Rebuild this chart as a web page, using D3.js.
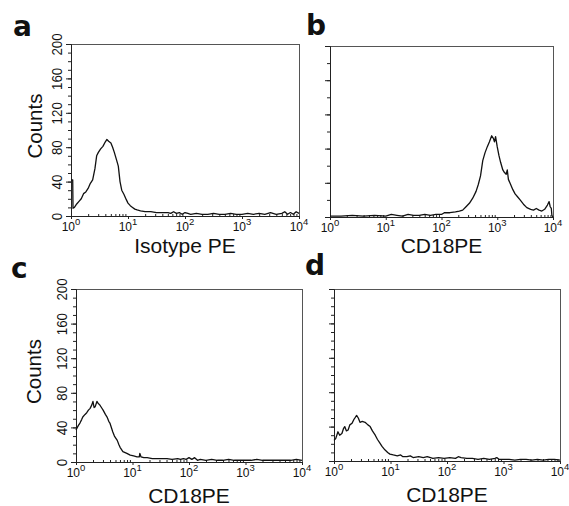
<!DOCTYPE html>
<html>
<head>
<meta charset="utf-8">
<script src="https://cdn.jsdelivr.net/npm/d3@7"></script>
<style>
  body { margin: 0; background: #fff; }
  svg { display: block; font-family: 'Liberation Sans', Arial, sans-serif; }
</style>
</head>
<body>
<svg id="chart" width="569" height="506"></svg>
<script>
// y axis (counts) tick labels and x axis decades (10^n)
const yTicks = [0, 40, 80, 120, 160, 200]
const xDecades = [0, 1, 2, 3, 4]
const panelLetters = ['a', 'b', 'c', 'd']
const xTitles = ['Isotype PE', 'CD18PE', 'CD18PE', 'CD18PE']
const yTitle = 'Counts'

// histogram traces: [log10 fluorescence, counts]
const isotypeA = [
  [0, 42], [0.03, 42], [0.035, 9], [0.06, 10], [0.1, 14], [0.14, 17], [0.18, 20],
  [0.22, 26], [0.26, 28], [0.3, 32], [0.34, 38], [0.38, 42], [0.42, 55], [0.45, 70],
  [0.48, 74], [0.52, 78], [0.56, 81], [0.6, 86], [0.63, 89], [0.66, 87], [0.7, 85],
  [0.73, 80], [0.76, 74], [0.8, 65], [0.83, 58], [0.86, 40], [0.89, 30], [0.93, 25],
  [0.97, 19], [1.0, 15], [1.04, 12], [1.08, 10], [1.12, 8], [1.16, 7], [1.22, 6],
  [1.3, 5], [1.4, 5], [1.5, 4], [1.6, 4], [1.7, 4], [1.75, 3], [1.8, 5], [1.85, 3],
  [1.9, 4], [1.95, 2], [2.0, 4], [2.05, 3], [2.1, 2], [2.2, 3], [2.3, 2], [2.4, 2],
  [2.5, 3], [2.6, 2], [2.7, 2], [2.8, 3], [2.9, 2], [3.0, 2], [3.1, 3], [3.2, 2],
  [3.3, 3], [3.4, 2], [3.5, 4], [3.6, 2], [3.7, 3], [3.75, 5], [3.8, 2], [3.85, 4],
  [3.9, 2], [3.95, 5], [4.0, 3],
]
const cd18B = [
  [0, 1], [0.2, 1], [0.4, 2], [0.6, 1], [0.8, 2], [1.0, 1], [1.1, 3], [1.2, 2],
  [1.3, 1], [1.4, 3], [1.5, 2], [1.6, 2], [1.7, 3], [1.8, 2], [1.9, 3], [2.0, 3],
  [2.05, 5], [2.15, 5], [2.25, 6], [2.32, 7], [2.38, 8], [2.44, 12], [2.5, 16],
  [2.56, 22], [2.62, 30], [2.66, 38], [2.7, 48], [2.74, 66], [2.78, 75], [2.82, 82],
  [2.86, 88], [2.9, 95], [2.93, 92], [2.95, 88], [2.97, 94], [3.0, 82], [3.03, 72],
  [3.06, 64], [3.1, 55], [3.13, 52], [3.16, 50], [3.18, 55], [3.2, 44], [3.24, 38],
  [3.28, 32], [3.32, 27], [3.36, 24], [3.41, 20], [3.47, 15], [3.53, 11], [3.6, 9],
  [3.65, 8], [3.7, 10], [3.75, 8], [3.8, 7], [3.85, 9], [3.9, 14], [3.93, 18],
  [3.95, 12], [3.97, 10], [3.98, 2], [4.0, 0],
]
const cd18C = [
  [0, 37], [0.04, 42], [0.07, 45], [0.1, 49], [0.12, 52], [0.16, 55], [0.19, 57],
  [0.22, 60], [0.25, 62], [0.28, 66], [0.3, 70], [0.32, 63], [0.34, 64], [0.37, 70],
  [0.39, 68], [0.42, 66], [0.45, 63], [0.48, 60], [0.52, 55], [0.55, 52], [0.58, 47],
  [0.6, 45], [0.63, 39], [0.65, 35], [0.68, 30], [0.73, 25], [0.76, 20], [0.78, 17],
  [0.83, 12], [0.9, 10], [0.96, 8], [1.02, 7], [1.08, 6], [1.12, 6], [1.13, 10],
  [1.15, 6], [1.2, 5], [1.26, 5], [1.35, 4], [1.45, 4], [1.55, 4], [1.61, 4],
  [1.7, 3], [1.8, 4], [1.85, 3], [1.9, 4], [1.95, 3], [2.0, 5], [2.05, 3], [2.1, 5],
  [2.15, 2], [2.2, 3], [2.3, 2], [2.4, 3], [2.5, 2], [2.6, 2], [2.7, 3], [2.8, 2],
  [2.9, 2], [3.0, 2], [3.1, 2], [3.2, 3], [3.3, 2], [3.4, 2], [3.5, 2], [3.6, 2],
  [3.7, 2], [3.8, 2], [3.9, 3], [4.0, 2],
]
const cd18D = [
  [0, 24], [0.03, 26], [0.07, 34], [0.1, 30], [0.14, 32], [0.17, 38], [0.19, 40],
  [0.22, 35], [0.25, 36], [0.28, 42], [0.32, 44], [0.35, 48], [0.37, 50], [0.4, 53],
  [0.43, 50], [0.46, 45], [0.5, 46], [0.55, 45], [0.6, 42], [0.64, 40], [0.68, 35],
  [0.73, 30], [0.77, 25], [0.81, 21], [0.85, 17], [0.9, 13], [0.95, 10], [0.99, 8],
  [1.05, 7], [1.12, 6], [1.18, 7], [1.22, 5], [1.29, 5], [1.35, 6], [1.4, 4],
  [1.5, 5], [1.58, 4], [1.65, 5], [1.75, 3], [1.85, 4], [1.95, 3], [2.05, 4],
  [2.15, 3], [2.2, 5], [2.25, 4], [2.35, 3], [2.45, 3], [2.55, 2], [2.65, 3],
  [2.75, 2], [2.85, 3], [2.88, 4], [2.92, 2], [3.0, 2], [3.1, 2], [3.2, 1], [3.3, 2],
  [3.4, 2], [3.5, 1], [3.6, 2], [3.7, 1], [3.8, 2], [3.9, 2], [4.0, 1],
]

// panel placement (pixels)
const panels = [
  { data: isotypeA, x0: 71, x1: 299, y0: 44, y1: 216, yLabels: true, yMinor: 10, lx: 13, ly: 36, titleY: 253, countsX: 42 },
  { data: cd18B, x0: 330, x1: 553, y0: 46, y1: 217, yLabels: false, yMinor: 20, lx: 306, ly: 35, titleY: 253 },
  { data: cd18C, x0: 76, x1: 302, y0: 289, y1: 462, yLabels: true, yMinor: 10, lx: 11, ly: 278, titleY: 503, countsX: 41 },
  { data: cd18D, x0: 334, x1: 560, y0: 289, y1: 461, yLabels: false, yMinor: 10, lx: 305, ly: 275, titleY: 502 },
]

const svg = d3.select('#chart')

panels.forEach((p, i) => {
  const x = d3.scaleLog().domain([1, 1e4]).range([p.x0, p.x1])
  const y = d3.scaleLinear().domain([0, 200]).range([p.y1, p.y0])
  const g = svg.append('g').attr('id', 'panel-' + panelLetters[i])

  // frame
  g.append('rect')
    .attr('x', p.x0)
    .attr('y', p.y0)
    .attr('width', p.x1 - p.x0)
    .attr('height', p.y1 - p.y0)
    .attr('fill', 'none')
    .attr('stroke', '#555')
    .attr('stroke-width', 1)
    .attr('shape-rendering', 'crispEdges')

  // y minor + major ticks (outward)
  g.append('g')
    .attr('transform', `translate(${p.x0},0)`)
    .call(d3.axisLeft(y).tickValues(d3.range(0, 201, p.yMinor)).tickSize(3).tickSizeOuter(0).tickFormat(''))
  const yAxis = g.append('g')
    .attr('transform', `translate(${p.x0},0)`)
    .call(d3.axisLeft(y).tickValues(yTicks).tickSize(5).tickSizeOuter(0)
      .tickFormat(p.yLabels ? d3.format('d') : ''))
  yAxis.selectAll('text')
    .attr('x', 0)
    .attr('y', 0)
    .attr('dy', 0)
    .attr('transform', 'translate(-9,0) rotate(-90)')
    .attr('text-anchor', 'middle')
    .attr('font-family', "'Liberation Sans', Arial, sans-serif")
    .attr('font-size', 15)
    .attr('textLength', (d) => String(d).length * 7.4)
    .attr('lengthAdjust', 'spacingAndGlyphs')
    .attr('fill', '#111')

  // x minor ticks (inward) and decade ticks
  const minor = []
  xDecades.slice(0, -1).forEach((d) => {
    for (let k = 2; k < 10; k++) minor.push(k * 10 ** d)
  })
  g.append('g')
    .attr('transform', `translate(0,${p.y1})`)
    .call(d3.axisBottom(x).tickValues(minor).tickSize(-2).tickSizeOuter(0).tickFormat(''))
  g.append('g')
    .attr('transform', `translate(0,${p.y1})`)
    .call(d3.axisBottom(x).tickValues(xDecades.map((d) => 10 ** d)).tickSize(3).tickSizeOuter(0).tickFormat(''))
  g.selectAll('.domain').attr('stroke', '#222')
  g.selectAll('.tick line').attr('stroke', '#222')

  // x tick labels as 10^n
  const lbl = g.append('g')
    .selectAll('text')
    .data(xDecades)
    .join('text')
    .attr('x', (d) => x(10 ** d))
    .attr('y', p.y1 + 15)
    .attr('text-anchor', 'middle')
    .attr('fill', '#111')
  lbl.append('tspan').attr('font-size', 12).text('10')
  lbl.append('tspan').attr('font-size', 9.5).attr('dy', -6).text((d) => d)

  // histogram trace
  g.append('path')
    .datum(p.data)
    .attr('fill', 'none')
    .attr('stroke', '#111')
    .attr('stroke-width', 1.3)
    .attr('stroke-linejoin', 'round')
    .attr('d', d3.line().x((d) => x(10 ** d[0])).y((d) => y(d[1])))

  // axis titles
  g.append('text')
    .attr('x', (p.x0 + p.x1) / 2)
    .attr('y', p.titleY)
    .attr('text-anchor', 'middle')
    .attr('font-size', 21)
    .attr('fill', '#111')
    .text(xTitles[i])

  if (p.yLabels) {
    g.append('text')
      .attr('transform', `translate(${p.countsX},${(p.y0 + p.y1) / 2 - 4}) rotate(-90)`)
      .attr('text-anchor', 'middle')
      .attr('font-size', 20.5)
      .attr('fill', '#111')
      .text(yTitle)
  }

  // panel letter
  g.append('text')
    .attr('x', p.lx)
    .attr('y', p.ly)
    .attr('font-family', "'DejaVu Sans', sans-serif")
    .attr('font-weight', 'bold')
    .attr('font-size', 28)
    .attr('fill', '#111')
    .text(panelLetters[i])
})
</script>
</body>
</html>
